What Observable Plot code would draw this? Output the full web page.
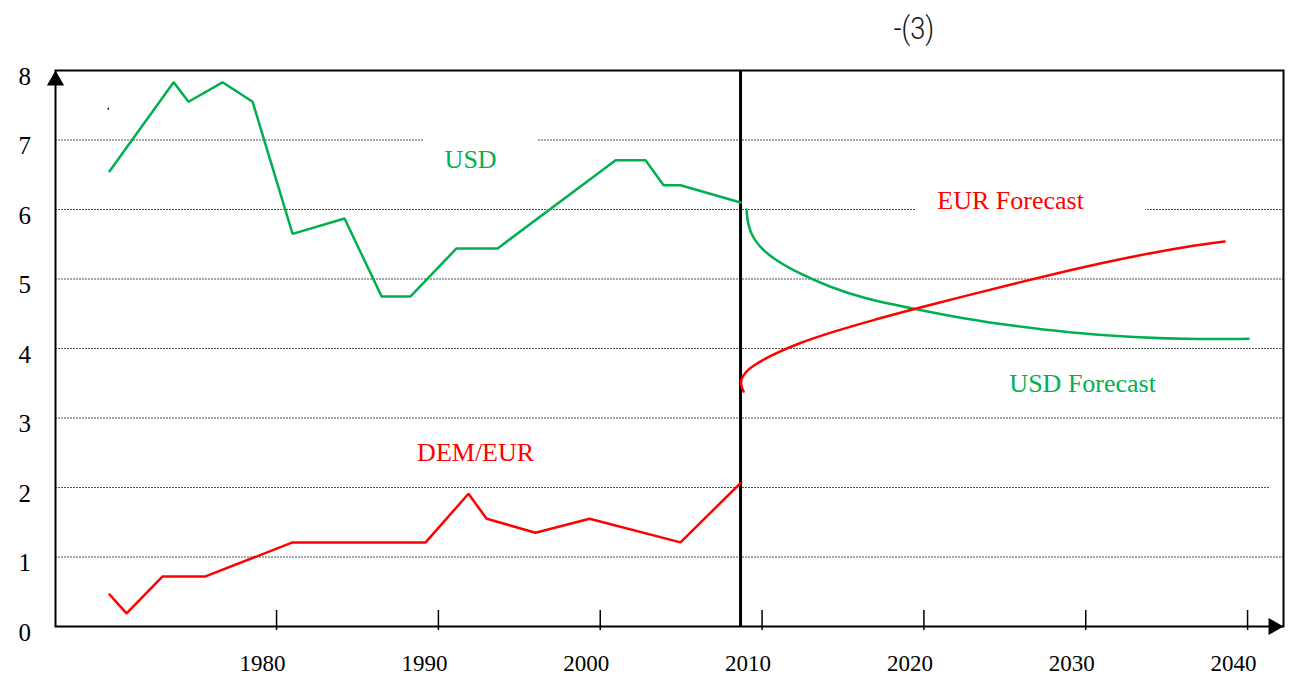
<!DOCTYPE html>
<html>
<head>
<meta charset="utf-8">
<script src="https://cdn.jsdelivr.net/npm/d3@7"></script>
<script src="https://cdn.jsdelivr.net/npm/@observablehq/plot@0.6"></script>
<style>
  html, body { margin: 0; padding: 0; background: #fff; }
  #wrap { position: relative; width: 1291px; height: 677px; overflow: hidden; }
  #title { position: absolute; left: 914px; top: 28px; transform: translate(-50%, -50%) scaleX(0.85);
    font-family: Roboto, "DejaVu Sans", sans-serif; font-weight: 300; font-size: 32px; color: #111; }
</style>
</head>
<body>
<div id="wrap"><div id="title">-(3)</div></div>
<script>
// ---- data ----
const usdYears   = [1969.68, 1973.64, 1974.56, 1976.66, 1978.52, 1980.99, 1984.20, 1986.49, 1988.28, 1991.12, 1993.66, 2000.95, 2002.80, 2003.91, 2004.96, 2008.67];
const usdValues  = [6.55, 7.83, 7.55, 7.83, 7.55, 5.65, 5.87, 4.75, 4.75, 5.44, 5.44, 6.71, 6.71, 6.35, 6.35, 6.10];

const demYears   = [1969.68, 1970.73, 1972.96, 1975.61, 1980.99, 1989.21, 1991.86, 1992.98, 1996.00, 1999.34, 2004.96, 2008.65];
const demValues  = [0.46, 0.19, 0.72, 0.72, 1.21, 1.21, 1.91, 1.55, 1.35, 1.55, 1.21, 2.06];

const usdFcYears  = [2009.04, 2009.10, 2009.48, 2010.53, 2012.19, 2014.23, 2016.27, 2019.61, 2022.45, 2025.36, 2028.88, 2032.96, 2037.10, 2040.06];
const usdFcValues = [6.00, 5.80, 5.55, 5.31, 5.09, 4.88, 4.72, 4.56, 4.43, 4.33, 4.23, 4.16, 4.13, 4.14];

const eurFcYears  = [2008.86, 2008.67, 2008.73, 2009.04, 2009.29, 2010.53, 2012.19, 2014.23, 2016.71, 2019.61, 2022.45, 2025.36, 2028.88, 2032.96, 2037.10, 2038.58];
const eurFcValues = [3.38, 3.48, 3.58, 3.67, 3.73, 3.90, 4.07, 4.23, 4.40, 4.58, 4.75, 4.92, 5.12, 5.33, 5.50, 5.54];

const forecastStart = 2008.67;
const xTicks = [1980, 1990, 2000, 2010, 2020, 2030, 2040];
const yTicks = [0, 1, 2, 3, 4, 5, 6, 7, 8];
const gridValues = [1, 3, 4, 5, 6, 7];
const shortGridValues = [2];

const labelTexts  = ["USD", "DEM/EUR", "EUR Forecast", "USD Forecast"];
const labelYears  = [1991.99, 1992.30, 2025.36, 2029.81];
const labelValues = [6.71, 2.50, 6.12, 3.50];
const labelColors = ["#00B050", "#FF0000", "#FF0000", "#00B050"];

const strayDot = [{year: 1969.6, value: 7.45}];

// ---- tables ----
const zip = (xs, ys) => xs.map((x, i) => ({year: x, value: ys[i]}));
const usd = zip(usdYears, usdValues);
const dem = zip(demYears, demValues);
const usdFc = zip(usdFcYears, usdFcValues);
const eurFc = zip(eurFcYears, eurFcValues);
const labels = labelTexts.map((t, i) => ({text: t, year: labelYears[i], value: labelValues[i], color: labelColors[i]}));

const GREEN = "#00B050", RED = "#FF0000";
const serif = "Liberation Serif, Times New Roman, Times, serif";

const whiteBox = (lab, left, right, top, bottom) => Plot.rect([lab], {
  x1: "year", x2: "year", y1: "value", y2: "value",
  insetLeft: -left, insetRight: -right, insetTop: -top, insetBottom: -bottom,
  fill: "white", stroke: "none"
});

const chart = Plot.plot({
  width: 1291,
  height: 677,
  marginLeft: 55,
  marginRight: 8,
  marginTop: 70,
  marginBottom: 51,
  style: {fontFamily: serif, fontSize: "23px", background: "white", color: "black", overflow: "visible"},
  x: {domain: [1966.34, 2042.22], axis: null},
  y: {domain: [0, 8], axis: null},
  marks: [
    Plot.ruleY(gridValues, {y: d => d, stroke: "#555", strokeWidth: 1, strokeDasharray: "2,1"}),
    Plot.ruleY(shortGridValues, {y: d => d, stroke: "#555", strokeWidth: 1, strokeDasharray: "2,1", insetRight: 13}),
    whiteBox(labels[0], 47, 67, 30, 25),
    whiteBox(labels[2], 95, 135, 20, 20),
    Plot.frame({stroke: "black", strokeWidth: 2}),
    Plot.ruleX([forecastStart], {x: d => d, stroke: "black", strokeWidth: 3}),
    Plot.ruleX(xTicks, {x: d => d, insetTop: 540, insetBottom: -4, stroke: "black", strokeWidth: 1.5}),
    // tick labels (drawn through the scales)
    Plot.text(yTicks, {y: d => d, frameAnchor: "left", dx: -37, dy: 6, text: d => String(d),
      fontFamily: serif, fontSize: 25, fill: "black"}),
    Plot.text(xTicks, {x: d => d, frameAnchor: "bottom", dx: -14, dy: 44, text: d => String(d),
      fontFamily: serif, fontSize: 23, fill: "black"}),
    Plot.line(usd, {x: "year", y: "value", stroke: GREEN, strokeWidth: 2.5, strokeLinejoin: "miter"}),
    Plot.line(dem, {x: "year", y: "value", stroke: RED, strokeWidth: 2.5, strokeLinejoin: "miter"}),
    Plot.line(usdFc, {x: "year", y: "value", stroke: GREEN, strokeWidth: 2.5, curve: "basis"}),
    Plot.line(eurFc, {x: "year", y: "value", stroke: RED, strokeWidth: 2.5, curve: "basis"}),
    Plot.text(labels, {x: "year", y: "value", text: "text", fill: "color", fontSize: 26, fontFamily: serif}),
    Plot.dot(strayDot, {x: "year", y: "value", r: 0.9, fill: "black", stroke: "none"}),
    Plot.dot([0], {frameAnchor: "top-left", symbol: "triangle", r: 6.4, fill: "black", stroke: "none", dy: 10}),
    Plot.dot([0], {frameAnchor: "bottom-right", symbol: "triangle", r: 6.4, fill: "black", stroke: "none", rotate: 90, dx: -10})
  ]
});

document.getElementById("wrap").appendChild(chart);
</script>
</body>
</html>
